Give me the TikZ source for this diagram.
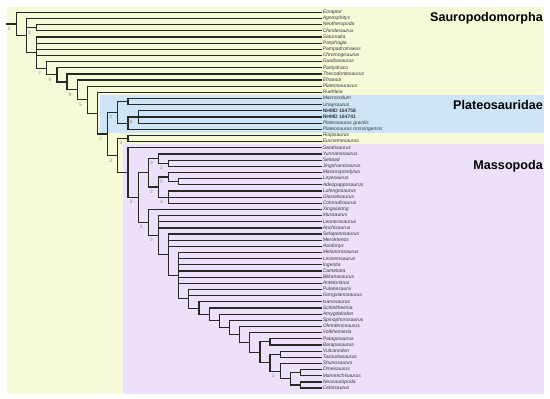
\documentclass[tikz,border=0pt]{standalone}
\usepackage{fontspec}
\setsansfont{Liberation Sans}
\definecolor{sauro}{RGB}{246,250,217}
\definecolor{plat}{RGB}{206,228,247}
\definecolor{masso}{RGB}{236,224,250}
\definecolor{linecol}{RGB}{40,40,36}
\definecolor{taxcol}{RGB}{55,55,60}
\definecolor{suppcol}{RGB}{135,135,125}
\begin{document}
\begin{tikzpicture}[x=1pt,y=-1pt,
  declare function={lx(\l)=16.3+10.15*(\l-1);},
  br/.style={draw=linecol,line width=1.2pt},
  taxon/.style={anchor=west,inner xsep=0.6pt,inner ysep=0pt,font=\sffamily\itshape\fontsize{5}{6}\selectfont,text=taxcol,text height=3.6pt,text depth=1pt},
  spec/.style={taxon,font=\sffamily\bfseries\fontsize{5}{6}\selectfont},
  clade/.style={anchor=base east,inner sep=0pt,font=\sffamily\bfseries\fontsize{12.6}{14}\selectfont,text=black},
  supp/.style={inner sep=0pt,font=\sffamily\fontsize{4.8}{5}\selectfont,text=suppcol}]
\useasboundingbox (0,0) rectangle (550,399);
\fill[white] (0,0) rectangle (550,399);
% clade backgrounds
\fill[sauro] (6.7,6.7) rectangle (544,393.5);
\fill[plat] (100,95.3) rectangle (544,132.8);
\fill[masso] (123.3,144) rectangle (544,393.5);
% clade names
\node[clade] (lsauro) at (543,21) {Sauropodomorpha};
\node[clade] (lplat) at (543,109.7) {Plateosauridae};
\node[clade] (lmasso) at (543,169.7) {Massopoda};
% taxa
\foreach \i/\n in {1/Eoraptor,2/Agnosphitys,3/Neotheropoda,4/Chindesaurus,5/Saturnalia,6/Panphagia,7/Pampadromaeus,8/Chromogisaurus,9/Guaibasaurus,10/Pantydraco,11/Thecodontosaurus,12/Efraasia,13/Plateosauravus,14/Ruehleia,15/Macrocollum,16/Unaysaurus,19/Plateosaurus gracilis,20/Plateosaurus trossingensis,21/Riojasaurus,22/Eucnemesaurus,23/Sarahsaurus,24/Yunnanosaurus,25/Seitaad,26/Jingshanosaurus,27/Massospondylus,28/Leyesaurus,29/Adeopapposaurus,30/Lufengosaurus,31/Glacialisaurus,32/Coloradisaurus,33/Xingxiulong,34/Mussaurus,35/Leonerasaurus,36/Anchisaurus,37/Sefapanosaurus,38/Meroktenos,39/Aardonyx,40/Melanorosaurus,41/Lessemsaurus,42/Ingentia,43/Camelotia,44/Blikanasaurus,45/Antetonitrus,46/Pulanesaura,47/Gongxianosaurus,48/Isanosaurus,49/Schleitheimia,50/Amygdalodon,51/Spinophorosaurus,52/Ohmdenosaurus,53/Volkheimeria,54/Patagosaurus,55/Barapasaurus,56/Vulcanodon,57/Tazoudasaurus,58/Shunosaurus,59/Omeisaurus,60/Mamenchisaurus,61/Neosauropoda,62/Cetiosaurus}
  \node[taxon] (t\i) at (322,{12.3+6.16*(\i-1)}) {\n};
\node[spec] (t17) at (322,{12.3+6.16*16}) {NHMD 164758};
\node[spec] (t18) at (322,{12.3+6.16*17}) {NHMD 164741};
% internal nodes
\coordinate (rstem) at (6.3,23.91);
\coordinate (root) at ({lx(1)},23.91);
\coordinate (A) at ({lx(2)},35.52);
\coordinate (N1) at ({lx(3)},27.70);
\coordinate (B) at ({lx(3)},52.57);
\coordinate (C) at ({lx(4)},68.20);
\coordinate (D) at ({lx(5)},74.82);
\coordinate (E) at ({lx(6)},81.90);
\coordinate (F) at ({lx(7)},89.89);
\coordinate (G) at ({lx(8)},99.72);
\coordinate (H) at ({lx(9)},113.21);
\coordinate (J) at ({lx(10)},134.03);
\coordinate (M) at ({lx(11)},112.40);
\coordinate (K) at ({lx(12)},101.62);
\coordinate (N) at ({lx(12)},123.18);
\coordinate (O) at ({lx(13)},117.02);
\coordinate (P) at ({lx(11)},155.65);
\coordinate (Q) at ({lx(12)},138.58);
\coordinate (R) at ({lx(12)},172.71);
\coordinate (S) at ({lx(13)},197.59);
\coordinate (T) at ({lx(14)},172.85);
\coordinate (V1) at ({lx(15)},158.60);
\coordinate (V2) at ({lx(16)},163.22);
\coordinate (V3) at ({lx(15)},187.09);
\coordinate (V4) at ({lx(16)},177.08);
\coordinate (V5) at ({lx(17)},181.70);
\coordinate (V6) at ({lx(16)},197.10);
\coordinate (U) at ({lx(14)},222.33);
\coordinate (Y) at ({lx(15)},235.23);
\coordinate (Z) at ({lx(16)},254.87);
\coordinate (Z2) at ({lx(17)},275.67);
\coordinate (Z3) at ({lx(18)},298.80);
\coordinate (Z4) at ({lx(19)},308.10);
\coordinate (Z5) at ({lx(20)},314.37);
\coordinate (Z6) at ({lx(21)},320.76);
\coordinate (Z7) at ({lx(22)},327.38);
\coordinate (Z8) at ({lx(23)},334.45);
\coordinate (Z9) at ({lx(24)},342.44);
\coordinate (Z10) at ({lx(25)},352.26);
\coordinate (PB) at ({lx(26)},341.86);
\coordinate (W) at ({lx(26)},362.65);
\coordinate (VT) at ({lx(27)},354.18);
\coordinate (X1) at ({lx(27)},371.12);
\coordinate (X2) at ({lx(28)},378.82);
\coordinate (OM) at ({lx(29)},372.66);
\coordinate (NC) at ({lx(29)},384.98);
% branches
\draw[br] (rstem) -- (root);
\foreach \p/\c in {root/t1.west,root/A,
  A/t2.west,A/N1,A/B,
  N1/t3.west,N1/t4.west,
  B/t5.west,B/t6.west,B/t7.west,B/t8.west,B/C,
  C/t9.west,C/D,D/t10.west,D/E,E/t11.west,E/F,F/t12.west,F/G,G/t13.west,G/H,
  H/t14.west,H/J,J/M,J/P,M/K,M/N,K/t15.west,K/t16.west,N/O,N/t20.west,
  O/t17.west,O/t18.west,O/t19.west,
  P/Q,P/R,Q/t21.west,Q/t22.west,R/t23.west,R/S,S/T,S/U,
  T/V1,T/V3,V1/t24.west,V1/V2,V2/t25.west,V2/t26.west,
  V3/V4,V3/V6,V4/t27.west,V4/V5,V5/t28.west,V5/t29.west,
  V6/t30.west,V6/t31.west,V6/t32.west,
  U/t33.west,U/Y,Y/t34.west,Y/t35.west,Y/t36.west,Y/Z,
  Z/t37.west,Z/t38.west,Z/t39.west,Z/Z2,
  Z2/t40.west,Z2/t41.west,Z2/t42.west,Z2/t43.west,Z2/t44.west,Z2/t45.west,Z2/Z3,
  Z3/t46.west,Z3/t47.west,Z3/Z4,Z4/t48.west,Z4/Z5,Z5/t49.west,Z5/Z6,
  Z6/t50.west,Z6/Z7,Z7/t51.west,Z7/Z8,Z8/t52.west,Z8/Z9,Z9/t53.west,Z9/Z10,
  Z10/PB,Z10/W,PB/t54.west,PB/t55.west,W/VT,W/X1,VT/t56.west,VT/t57.west,
  X1/t58.west,X1/X2,X2/OM,X2/NC,OM/t59.west,OM/t60.west,NC/t61.west,NC/t62.west}
  \draw[br] (\p) |- (\c);
% support values
\foreach \n/\v in {root/2,N1/2,C/2,D/9,F/9,G/5,M/2,O/6,J/2,Q/3,P/3,V1/3,V2/2,V4/5,V3/2,V6/3,S/3,U/3,Y/3,X1/2}
  \node[supp] (s\n) at ([shift={(-7,4.7)}]\n) {\v};
\end{tikzpicture}
\end{document}
